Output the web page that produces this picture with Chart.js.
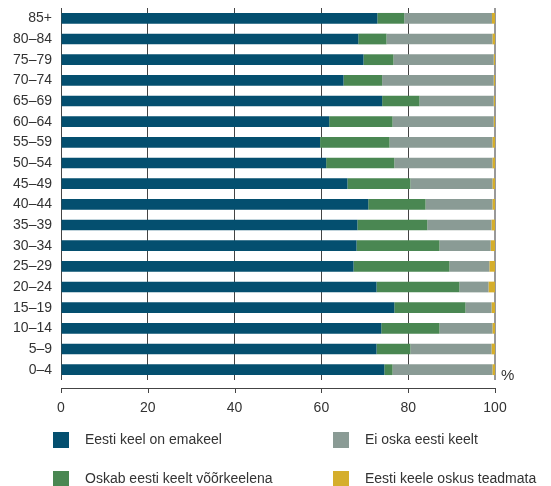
<!DOCTYPE html>
<html>
<head>
<meta charset="utf-8">
<script src="https://cdn.jsdelivr.net/npm/chart.js@4"></script>
<style>
  body { margin: 0; background: #fff; }
  #wrap { width: 551px; height: 486px; position: relative; }
</style>
</head>
<body>
<div id="wrap"><canvas id="chart-bar"></canvas></div>
<script>
// age groups, top to bottom
var ageGroups = ["85+", "80–84", "75–79", "70–74", "65–69", "60–64", "55–59", "50–54", "45–49",
                 "40–44", "35–39", "30–34", "25–29", "20–24", "15–19", "10–14", "5–9", "0–4"];

// shares in %
var nativeSpeakers = [72.9, 68.5, 69.7, 65.1, 74.0, 61.8, 59.7, 61.1, 66.0,
                      70.8, 68.3, 68.1, 67.4, 72.7, 76.8, 73.8, 72.7, 74.5];
var foreignLanguage = [6.2, 6.5, 6.9, 8.9, 8.6, 14.6, 16.0, 15.7, 14.5,
                       13.2, 16.1, 19.1, 22.1, 19.1, 16.4, 13.4, 7.8, 1.9];
var noEstonian = [20.2, 24.4, 23.1, 25.7, 17.1, 23.3, 23.7, 22.6, 18.9,
                  15.4, 14.8, 11.8, 9.2, 6.7, 6.0, 12.2, 18.7, 23.0];
var unknown = [0.7, 0.6, 0.3, 0.3, 0.3, 0.3, 0.6, 0.6, 0.6,
               0.6, 0.8, 1.0, 1.3, 1.5, 0.8, 0.6, 0.8, 0.6];

var xTicks = [0, 20, 40, 60, 80, 100];

var seriesLabels = ["Eesti keel on emakeel", "Oskab eesti keelt võõrkeelena",
                    "Ei oska eesti keelt", "Eesti keele oskus teadmata"];
var seriesColors = ["#044f6f", "#4a8752", "#8a9b95", "#d5ae2c"];

var FONT = "'Liberation Sans', Arial, sans-serif";
var TEXT = "#333333";

// offset bottom axis line with downward ticks, "%" sign and the 2x2 legend
var extrasPlugin = {
  id: "extras",
  afterDraw: function(chart) {
    var c = chart.ctx;
    var xs = chart.scales.x;
    var axisY = Math.round(chart.chartArea.bottom) + 8;
    c.save();
    c.strokeStyle = "#444";
    c.lineWidth = 1;
    c.beginPath();
    c.moveTo(xs.getPixelForValue(0), axisY + 0.5);
    c.lineTo(xs.getPixelForValue(100), axisY + 0.5);
    xTicks.forEach(function(v) {
      var px = Math.round(xs.getPixelForValue(v)) + 0.5;
      c.moveTo(px, axisY);
      c.lineTo(px, axisY + 5);
    });
    c.stroke();

    c.fillStyle = TEXT;
    c.font = "15px " + FONT;
    c.textBaseline = "middle";
    c.textAlign = "left";
    c.fillText("%", xs.getPixelForValue(100) + 6, chart.chartArea.bottom - 4);

    // legend: two columns, two rows
    var cols = [53, 333];
    var rows = [432, 471];
    c.font = "14px " + FONT;
    chart.data.datasets.forEach(function(ds, i) {
      var col = i < 2 ? 0 : 1;
      var row = i % 2;
      c.fillStyle = ds.backgroundColor;
      c.fillRect(cols[col], rows[row], 16, 16);
      c.fillStyle = TEXT;
      c.fillText(ds.label, cols[col] + 32, rows[row] + 8);
    });
    c.restore();
  }
};

var ctx = document.getElementById("chart-bar").getContext("2d");

new Chart(ctx, {
  type: "bar",
  data: {
    labels: ageGroups,
    datasets: [
      { label: seriesLabels[0], data: nativeSpeakers, backgroundColor: seriesColors[0] },
      { label: seriesLabels[1], data: foreignLanguage, backgroundColor: seriesColors[1] },
      { label: seriesLabels[2], data: noEstonian, backgroundColor: seriesColors[2] },
      { label: seriesLabels[3], data: unknown, backgroundColor: seriesColors[3] }
    ]
  },
  options: {
    indexAxis: "y",
    responsive: true,
    maintainAspectRatio: false,
    animation: false,
    datasets: {
      bar: { barPercentage: 0.52, categoryPercentage: 1, borderWidth: 0 }
    },
    layout: {
      padding: { top: 8, right: 56, bottom: 66, left: 0 }
    },
    plugins: {
      legend: { display: false },
      tooltip: { enabled: false }
    },
    scales: {
      x: {
        stacked: true,
        min: 0,
        max: 100,
        afterFit: function(scale) { scale.height = 40; },
        afterBuildTicks: function(scale) {
          scale.ticks = xTicks.map(function(v) { return { value: v }; });
        },
        border: { display: false },
        grid: {
          drawTicks: false,
          color: function(c) { return c.tick && c.tick.value === 100 ? "#999999" : "#444444"; },
          lineWidth: function(c) { return c.tick && c.tick.value === 100 ? 2 : 1; }
        },
        ticks: {
          padding: 20,
          color: TEXT,
          font: { size: 14, family: FONT }
        }
      },
      y: {
        stacked: true,
        afterFit: function(scale) {
          scale.width = 61;
          scale.paddingTop = 0;
          scale.paddingBottom = 0;
        },
        border: { display: false },
        grid: { display: false, drawTicks: false },
        ticks: {
          padding: 9,
          color: TEXT,
          font: { size: 14, family: FONT }
        }
      }
    }
  },
  plugins: [extrasPlugin]
});
</script>
</body>
</html>
